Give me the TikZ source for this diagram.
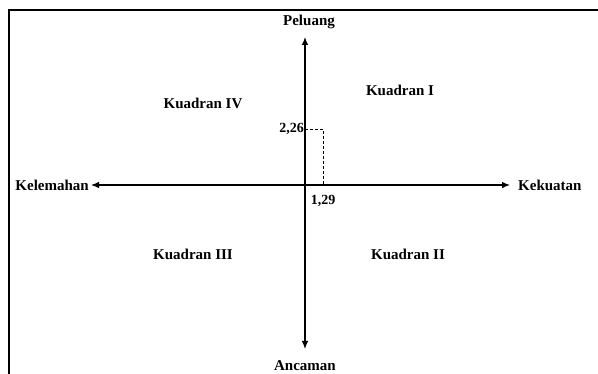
\documentclass[tikz,border=0pt]{standalone}
\usepackage{fontspec}
\setmainfont{Liberation Serif}
\usepackage{tikz}
\usetikzlibrary{arrows.meta, positioning}

\begin{document}
\begin{tikzpicture}[
  x=1pt, y=-1pt,
  node distance=2pt,
  lbl/.style={font=\fontsize{15}{17}\selectfont\bfseries, inner sep=1pt},
  val/.style={font=\fontsize{14}{16}\selectfont\bfseries, inner sep=1pt},
  axis/.style={line width=1.1pt, {Latex[length=8pt,width=6.5pt]}-{Latex[length=8pt,width=6.5pt]}},
  frame/.style={line width=2pt},
  guide/.style={line width=0.9pt, dash pattern=on 3pt off 2pt}]
\useasboundingbox (0,0) rectangle (598,374);
% frame (only top and left visible)
\draw[frame] (598,10) -- (8.5,10) -- (8.5,374);
% axes
\coordinate (O) at (305,185);
\coordinate (top) at (305,37);
\coordinate (bot) at (305,349);
\coordinate (lft) at (91,185);
\coordinate (rgt) at (510,185);
\draw[axis] (bot) -- (top);
\draw[axis] (lft) -- (rgt);
% axis labels
\node[lbl] (pel) at (309,22) {Peluang};
\node[lbl] (anc) at (305,366) {Ancaman};
\node[lbl, left=1pt of lft] (kel) {Kelemahan};
\node[lbl, right=7pt of rgt] (kek) {Kekuatan};
% quadrants
\node[lbl] (q1) at (400,90) {Kuadran I};
\node[lbl] (q2) at (408,254) {Kuadran II};
\node[lbl] (q3) at (193,254) {Kuadran III};
\node[lbl] (q4) at (203,103) {Kuadran IV};
% point
\coordinate (py) at (305,129);
\coordinate (pt) at (323,129);
\coordinate (px) at (323,185);
\draw[guide] (py) -- (pt) -- (px);
\node[val, left=0pt of py] (vy) {2,26};
\node[val, below=9pt of px] (vx) {1,29};
\end{tikzpicture}
\end{document}
